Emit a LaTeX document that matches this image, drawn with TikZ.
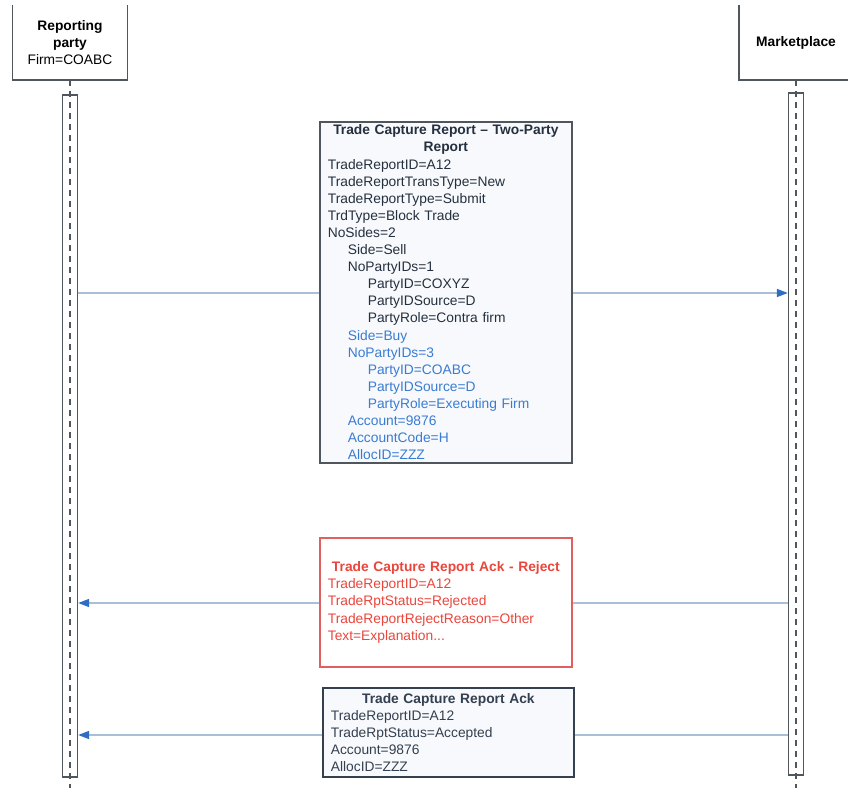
\documentclass[tikz,border=0pt]{standalone}
\usepackage{fontspec}
\setmainfont{Liberation Sans}
\usetikzlibrary{arrows.meta}
\definecolor{ink}{HTML}{25303F}
\definecolor{frame}{HTML}{50565E}
\definecolor{msgblue}{HTML}{3A7CD2}
\definecolor{rejred}{HTML}{EA463C}
\definecolor{rejframe}{HTML}{E06060}
\definecolor{wire}{HTML}{A9BFD6}
\definecolor{tipblue}{HTML}{2F6DC4}
\definecolor{ackink}{HTML}{34404F}
\definecolor{boxfill}{HTML}{F7F9FC}

\begin{document}
\begin{tikzpicture}[x=1pt, y=-1pt,
	txt/.style={font=\fontsize{13.8}{17.1}\selectfont},
	head/.style={txt, align=center, minimum height=75pt, inner sep=0pt},
	side/.style={draw=frame, line width=1.4pt},
	bar/.style={draw=frame, line width=1.3pt, fill=white, minimum width=15pt, minimum height=682pt, inner sep=0pt},
	life/.style={draw=frame, line width=1.4pt, dash pattern=on 6pt off 5pt},
	msg/.style={txt, anchor=north west, align=left, inner xsep=8pt, inner ysep=3pt, fill=boxfill, line width=1.7pt},
	wire/.style={-{Triangle[length=11pt, width=8pt, color=tipblue]}, draw=wire, line width=1.5pt}]
	\useasboundingbox (0,0) rectangle (848,789);

	\node[head, minimum width=115pt] (0) at (70,42.5)  {{\bfseries Reporting}\\{\bfseries party}\\Firm=COABC};
	\node[head, minimum width=114pt] (1) at (796,42.5) {\bfseries Marketplace};

	\path [side] (0.north west) -- (0.south west) -- (0.south east) -- (0.north east);
	\path [side] (1.north west) -- (1.south west) -- (1.south east);

	\node[bar] (2) at (70,436)  {};
	\node[bar] (3) at (796,434) {};

	\path [life] (0.south) edge ([yshift=-10pt]2.south);
	\path [life] (1.south) edge ([yshift=-12pt]3.south);

	\coordinate (7) at (0,293);
	\coordinate (8) at (0,603);
	\coordinate (9) at (0,735);

	\draw [wire] (2.east |- 7) -- (3.west |- 7);
	\draw [wire] (3.west |- 8) -- (2.east |- 8);
	\draw [wire] (3.west |- 9) -- (2.east |- 9);

	\node[msg, draw=frame, text=ink, text width=236pt] (4) at (319,121) {%
		\makebox[\hsize][c]{\bfseries Trade Capture Report – Two-Party}\\
		\makebox[\hsize][c]{\bfseries Report}\\
		TradeReportID=A12\\
		TradeReportTransType=New\\
		TradeReportType=Submit\\
		TrdType=Block Trade\\
		NoSides=2\\
		\hspace*{20pt}Side=Sell\\
		\hspace*{20pt}NoPartyIDs=1\\
		\hspace*{40pt}PartyID=COXYZ\\
		\hspace*{40pt}PartyIDSource=D\\
		\hspace*{40pt}PartyRole=Contra firm\\
		\color{msgblue}\hspace*{20pt}Side=Buy\\
		\hspace*{20pt}NoPartyIDs=3\\
		\hspace*{40pt}PartyID=COABC\\
		\hspace*{40pt}PartyIDSource=D\\
		\hspace*{40pt}PartyRole=Executing Firm\\
		\hspace*{20pt}Account=9876\\
		\hspace*{20pt}AccountCode=H\\
		\hspace*{20pt}AllocID=ZZZ};

	\node[msg, draw=rejframe, fill=white, text=rejred, text width=236pt, minimum height=129pt] (5) at (319,537) {%
		\makebox[\hsize][c]{\bfseries Trade Capture Report Ack - Reject}\\
		TradeReportID=A12\\
		TradeRptStatus=Rejected\\
		TradeReportRejectReason=Other\\
		Text=Explanation...};

	\node[msg, draw=ackink, text=ackink, text width=235pt, minimum height=89pt] (6) at (322,687) {%
		\makebox[\hsize][c]{\bfseries Trade Capture Report Ack}\\
		TradeReportID=A12\\
		TradeRptStatus=Accepted\\
		Account=9876\\
		AllocID=ZZZ};
\end{tikzpicture}
\end{document}
